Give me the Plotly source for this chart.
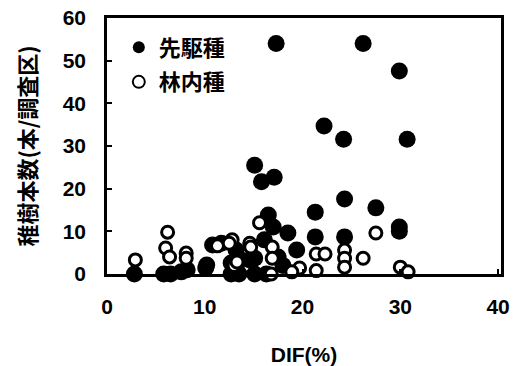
import plotly.graph_objects as go

# 先駆種 (pioneer species) – filled
pioneer_x = [17.3, 26.2, 29.9, 22.2, 24.2, 30.7, 15.1, 15.8, 17.1, 24.3, 21.3, 27.5,
             29.9, 29.9, 16.5, 17.0, 18.5, 21.3, 24.3, 19.4, 2.8, 5.8, 6.5, 7.6, 8.2,
             10.1, 12.7, 13.5, 15.1, 16.3, 13.2, 14.6, 10.8, 11.7, 10.2, 12.7, 13.7,
             15.1, 16.1, 17.5, 18.0]
pioneer_y = [54, 54, 47.6, 34.7, 31.6, 31.6, 25.5, 21.6, 22.7, 17.6, 14.5, 15.5,
             11, 10, 13.8, 11, 9.6, 8.7, 8.7, 5.6, 0, 0, 0, 0.5, 1,
             1.4, 0, 0, 0, 0, 5.6, 3.3, 6.8, 7.2, 2.1, 2.6, 3.3,
             3.7, 8, 4, 2]

# 林内種 (forest-interior species) – open
interior_x = [6.2, 6.0, 6.4, 2.9, 8.1, 8.1, 11.3, 12.8, 14.6, 15.6, 16.9, 16.9, 13.0,
              19.7, 18.9, 16.8, 27.5, 24.3, 24.3, 24.3, 26.2, 21.4, 22.3, 21.4, 30.0,
              30.8, 14.7, 13.3, 12.5]
interior_y = [9.8, 6.1, 4.0, 3.3, 4.9, 3.7, 6.6, 8.0, 7.2, 12.0, 6.3, 3.7, 2.0,
              1.4, 0.5, 0.0, 9.6, 5.6, 3.7, 1.6, 3.7, 4.7, 4.7, 0.8, 1.6,
              0.5, 6.3, 2.8, 7.2]

series_names = ["先駆種", "林内種"]
x_ticks = [0, 10, 20, 30, 40]
y_ticks = [0, 10, 20, 30, 40, 50, 60]

FONT = "Liberation Sans, Arial, Noto Sans CJK JP, sans-serif"
CJK = "Noto Sans CJK JP"

fig = go.Figure()
fig.add_trace(go.Scatter(
    x=pioneer_x, y=pioneer_y, mode="markers", name=series_names[0], legendgroup="a",
    marker=dict(symbol="circle", size=17, color="black", line=dict(width=0)),
    cliponaxis=False,
))
fig.add_trace(go.Scatter(
    x=interior_x, y=interior_y, mode="markers", name=series_names[1], legendgroup="b",
    marker=dict(symbol="circle", size=12, color="white", line=dict(width=3, color="black")),
    cliponaxis=False,
))

axis_common = dict(
    showgrid=False, zeroline=False, showline=True, linecolor="black", linewidth=2.5,
    mirror=True, ticks="inside", ticklen=5, tickwidth=2, tickcolor="black",
    tickfont=dict(family=FONT, size=21, color="black", weight="bold"),
    automargin=False, ticklabeloverflow="allow",
)

fig.update_layout(
    width=523, height=366,
    margin=dict(l=107, r=22, t=18, b=92),
    paper_bgcolor="white", plot_bgcolor="white",
    showlegend=True,
    legend=dict(
        x=0.03, y=0.967, xanchor="left", yanchor="top",
        bgcolor="rgba(0,0,0,0)", borderwidth=0,
        font=dict(family=CJK, size=22, color="black", weight="bold"),
        itemsizing="constant", tracegroupgap=3, itemwidth=30,
    ),
    xaxis=dict(
        range=[0, 40.3], tickvals=x_ticks, ticktext=[str(v) for v in x_ticks],
        ticklabelstandoff=12,
        title=dict(text="DIF(%)", font=dict(family=FONT, size=21, color="black", weight="bold"), standoff=32),
        **axis_common,
    ),
    yaxis=dict(
        range=[0, 60], tickvals=y_ticks, ticktext=[str(v) for v in y_ticks],
        ticklabelstandoff=14,
        title=dict(text="稚樹本数(本/調査区)", font=dict(family=CJK, size=22, color="black", weight="bold"), standoff=20),
        **axis_common,
    ),
)

# remove the default 8px page margin so the figure fills the window exactly
fig.write_html("out.html", config={"displayModeBar": False},
               post_script="document.body.style.margin='0';")
